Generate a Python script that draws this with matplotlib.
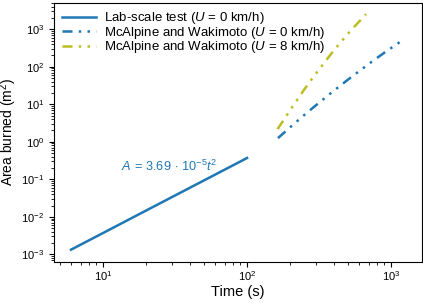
import matplotlib
matplotlib.use("Agg")
import matplotlib.pyplot as plt

plt.rcParams["font.family"] = ["Liberation Sans", "DejaVu Sans"]
plt.rcParams["mathtext.fontset"] = "custom"
plt.rcParams["mathtext.rm"] = "Liberation Sans"
plt.rcParams["mathtext.it"] = "Liberation Sans:italic"
plt.rcParams["mathtext.bf"] = "Liberation Sans:bold"

# lab-scale test, A = 3.69e-5 t^2
lab_t = [6, 10, 20, 50, 100]
lab_A = [1.33e-3, 3.69e-3, 1.48e-2, 9.23e-2, 0.369]

# McAlpine and Wakimoto, U = 0 km/h
mw0_t = [164, 200, 250, 300, 400, 500, 700, 900, 1200]
mw0_A = [1.25, 2.47, 5.2, 9.3, 22.9, 44.8, 119, 238, 508]

# McAlpine and Wakimoto, U = 8 km/h
mw8_t = [163, 200, 250, 300, 400, 500, 670]
mw8_A = [2.17, 7.1, 25, 65, 271, 748, 2530]

blue = "#1f77b4"
olive = "#bcbd22"
dashdotdot = (0, (4, 2.5, 1, 2.5, 1, 2.5, 1, 2.5))

fig = plt.figure(figsize=(4.23, 3.06), dpi=100)
ax = fig.add_axes([54 / 423, 44 / 306, 368 / 423, 259.5 / 306])

ax.plot(lab_t, lab_A, color=blue, lw=1.8, label="Lab-scale test ($U$ = 0 km/h)")
ax.plot(mw0_t, mw0_A, color=blue, lw=1.8, ls=dashdotdot,
        label="McAlpine and Wakimoto ($U$ = 0 km/h)")
ax.plot(mw8_t, mw8_A, color=olive, lw=1.8, ls=dashdotdot,
        label="McAlpine and Wakimoto ($U$ = 8 km/h)")

ax.text(29, 0.22, r"$A\,=\,3.69\,\cdot\,10^{-5}t^2$", color=blue,
        fontsize=9.2, ha="center", va="center")

ax.set_xscale("log")
ax.set_yscale("log")
ax.set_xlim(4.57, 1640)
ax.set_ylim(6.24e-4, 5160)
ax.set_xlabel("Time (s)", fontsize=10.5, labelpad=1)
ax.set_ylabel("Area burned (m$^2$)", fontsize=10, labelpad=1.5)
ax.tick_params(labelsize=8)
ax.tick_params(axis="x", pad=2)
ax.legend(loc="upper left", frameon=False, fontsize=9.5, handlelength=2.6,
          handletextpad=0.6, labelspacing=-0.12, borderaxespad=0.2)

fig.savefig("out.png", dpi=100)
